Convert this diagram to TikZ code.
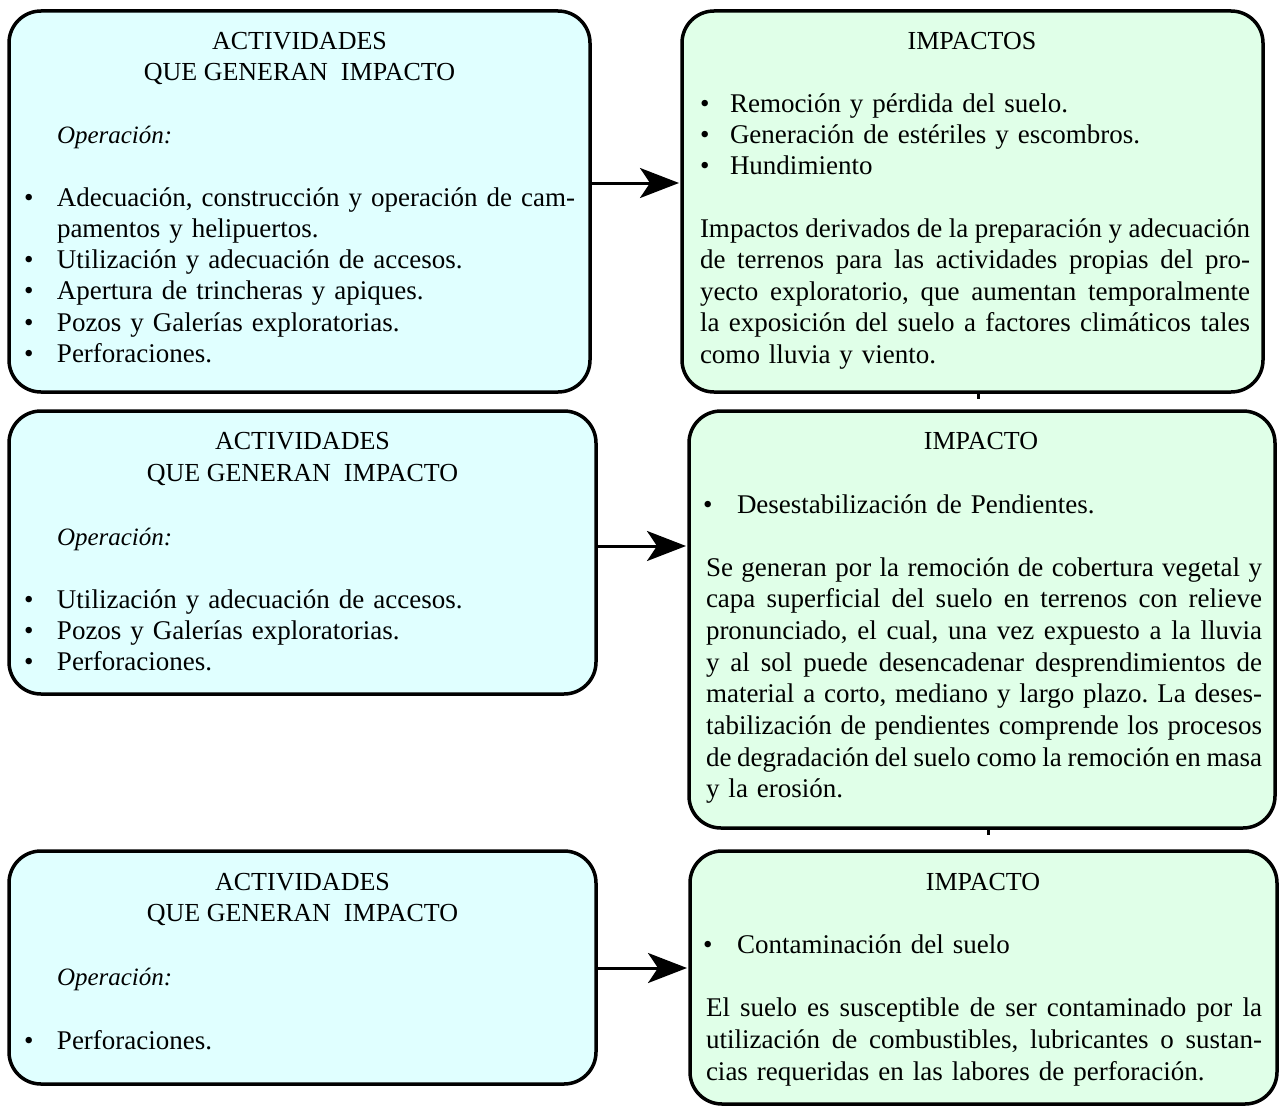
\documentclass[tikz,border=0pt]{standalone}
\usepackage{fontspec}
\setmainfont{Liberation Serif}
\usetikzlibrary{arrows.meta}
\definecolor{actfill}{RGB}{224,255,255}
\definecolor{impfill}{RGB}{224,255,232}
% interword glue for justified lines
\newcommand{\wordglue}{\frenchspacing\spaceskip=0.25em plus 0.4em minus 0.12em\relax}
% one justified line of the given width
\newcommand{\jl}[2][550pt]{\hbox to #1{\wordglue #2}}
% bullet item: #1 = indent of the text, #2 = item text
\newcommand{\bitem}[2]{\makebox[#1][l]{\textbullet}#2\par}
\tikzset{
  box/.style={draw=black, line width=3.5pt, rounded corners=32pt, inner sep=0pt, outer sep=0pt},
  actbox/.style={box, fill=actfill},
  impbox/.style={box, fill=impfill},
  txt/.style={inner sep=0pt, outer sep=0pt, anchor=base west, font=\fontsize{27pt}{#1}\selectfont\wordglue},
  txt/.default=31.4pt,
  head/.style={inner sep=0pt, outer sep=0pt, anchor=base, font=\fontsize{26pt}{31pt}\selectfont},
  optxt/.style={inner sep=0pt, outer sep=0pt, anchor=base west, font=\fontsize{25pt}{31pt}\selectfont\itshape},
  link/.style={line width=3pt, shorten >=3pt, -{Stealth[length=39pt,width=30pt,inset=10pt]}},
  tick/.style={line width=3pt},
}
\begin{document}
\begin{tikzpicture}[x=1pt,y=-1pt]
\useasboundingbox (0,0) rectangle (1280,1108);

% boxes
\node[actbox, minimum width=581pt, minimum height=381pt] (l1) at (299.5,201.5) {};
\node[impbox, minimum width=581pt, minimum height=381pt] (r1) at (972.5,201.5) {};
\node[actbox, minimum width=587pt, minimum height=283pt] (l2) at (302.5,552.5) {};
\node[impbox, minimum width=586pt, minimum height=417pt] (r2) at (982,619.5) {};
\node[actbox, minimum width=587pt, minimum height=233pt] (l3) at (302.5,967.5) {};
\node[impbox, minimum width=587pt, minimum height=253pt] (r3) at (983.5,977.5) {};

% first row
\node[head] (l1h1) at (299.5,50) {ACTIVIDADES};
\node[head] (l1h2) at (299.5,81) {QUE GENERAN\ \ IMPACTO};
\node[optxt] (l1op) at (57,143) {Operación:};
\node[txt=31.3pt, text width=551pt] (l1list) at (24,206) {%
  \hbox{\makebox[33pt][l]{\textbullet}\jl[518pt]{Adecuación, construcción y operación de cam-}}
  \hspace*{33pt}pamentos y helipuertos.\par
  \bitem{33pt}{Utilización y adecuación de accesos.}
  \bitem{33pt}{Apertura de trincheras y apiques.}
  \bitem{33pt}{Pozos y Galerías exploratorias.}
  \bitem{33pt}{Perforaciones.}};

\node[head] (r1h) at (972,50) {IMPACTOS};
\node[txt=31.2pt, text width=550pt] (r1list) at (700,112) {%
  \bitem{30pt}{Remoción y pérdida del suelo.}
  \bitem{30pt}{Generación de estériles y escombros.}
  \bitem{30pt}{Hundimiento}};
\node[txt=31.5pt, text width=550pt] (r1par) at (700,237) {%
  \jl{Impactos derivados de la preparación y adecuación}
  \jl{de terrenos para las actividades propias del pro-}
  \jl{yecto exploratorio, que aumentan temporalmente}
  \jl{la exposición del suelo a factores climáticos tales}
  como lluvia y viento.};

% second row
\node[head] (l2h1) at (302.5,449) {ACTIVIDADES};
\node[head] (l2h2) at (302.5,481) {QUE GENERAN\ \ IMPACTO};
\node[optxt] (l2op) at (57,545) {Operación:};
\node[txt=31.4pt, text width=551pt] (l2list) at (24,608) {%
  \bitem{33pt}{Utilización y adecuación de accesos.}
  \bitem{33pt}{Pozos y Galerías exploratorias.}
  \bitem{33pt}{Perforaciones.}};

\node[head] (r2h) at (981,449) {IMPACTO};
\node[txt, text width=556pt] (r2list) at (703,513) {%
  \bitem{34pt}{Desestabilización de Pendientes.}};
\node[txt=31.7pt, text width=556pt] (r2par) at (706,576) {%
  \jl[556pt]{Se generan por la remoción de cobertura vegetal y}
  \jl[556pt]{capa superficial del suelo en terrenos con relieve}
  \jl[556pt]{pronunciado, el cual, una vez expuesto a la lluvia}
  \jl[556pt]{y al sol puede desencadenar desprendimientos de}
  \jl[556pt]{material a corto, mediano y largo plazo. La deses-}
  \jl[556pt]{tabilización de pendientes comprende los procesos}
  \jl[556pt]{de degradación del suelo como la remoción en masa}
  y la erosión.};

% third row
\node[head] (l3h1) at (302.5,890) {ACTIVIDADES};
\node[head] (l3h2) at (302.5,921) {QUE GENERAN\ \ IMPACTO};
\node[optxt] (l3op) at (57,985) {Operación:};
\node[txt, text width=551pt] (l3list) at (24,1049) {%
  \bitem{33pt}{Perforaciones.}};

\node[head] (r3h) at (983,890) {IMPACTO};
\node[txt, text width=556pt] (r3list) at (703,953) {%
  \bitem{34pt}{Contaminación del suelo}};
\node[txt=32pt, text width=556pt] (r3par) at (706,1016) {%
  \jl[556pt]{El suelo es susceptible de ser contaminado por la}
  \jl[556pt]{utilización de combustibles, lubricantes o sustan-}
  cias requeridas en las labores de perforación.};

% arrows from activities to impacts
\coordinate (a1) at (0,183);
\coordinate (a2) at (0,546);
\coordinate (a3) at (0,968);
\draw[link] (l1.east |- a1) -- (r1.west |- a1);
\draw[link] (l2.east |- a2) -- (r2.west |- a2);
\draw[link] (l3.east |- a3) -- (r3.west |- a3);

% stubs below the impact boxes
\coordinate (t1) at (978,0);
\coordinate (t2) at (988,0);
\draw[tick] (r1.south -| t1) -- ++(0,7);
\draw[tick] (r2.south -| t2) -- ++(0,7);
\end{tikzpicture}
\end{document}
